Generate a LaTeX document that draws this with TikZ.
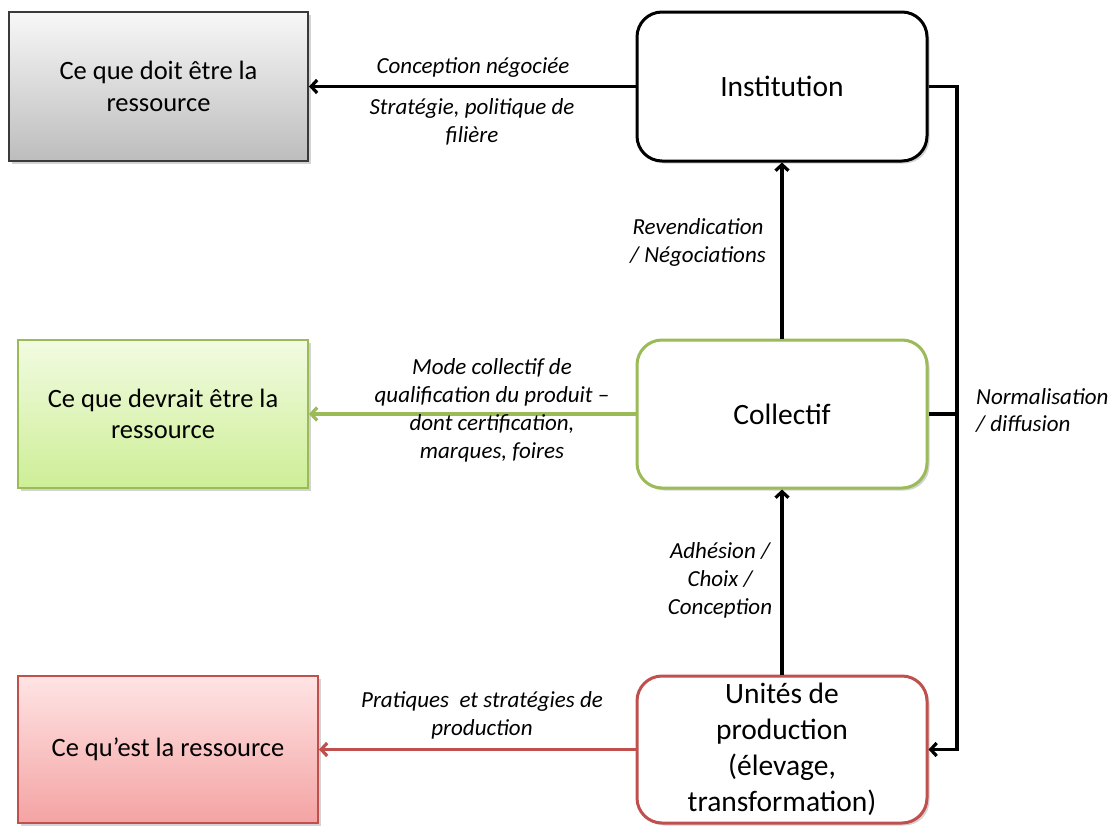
\documentclass[tikz,border=0pt]{standalone}
\usepackage{fontspec}
\setmainfont{Carlito}
\usetikzlibrary{arrows.meta,shadows}
\definecolor{grn}{HTML}{9BBB59}
\definecolor{rd}{HTML}{C0504D}
\definecolor{gbord}{HTML}{3A3A3A}
\tikzset{
  bigtxt/.style={font=\fontsize{29.5}{36}\selectfont, align=center},
  lefttxt/.style={font=\fontsize{26.5}{31.5}\selectfont, align=center},
  lbl/.style={font=\fontsize{23}{27.8}\selectfont\itshape, align=center, inner sep=0pt},
  shad/.style={drop shadow={opacity=0.35, shadow xshift=2.5pt, shadow yshift=-2.5pt}},
  leftbox/.style={rectangle, line width=2pt, lefttxt, shad},
  rightbox/.style={rectangle, rounded corners=25pt, line width=3pt, fill=white, bigtxt, minimum width=290pt, minimum height=148pt, inner sep=2pt, shad},
  arr/.style={line width=3.2pt, -{Straight Barb[length=6pt,width=13pt]}},
  conn/.style={line width=3.2pt},
}
\begin{document}
\begin{tikzpicture}[x=1pt,y=-1pt]
\useasboundingbox (0,0) rectangle (1118,825);

% left boxes
\node[leftbox, draw=gbord, top color=gray!6, bottom color=gray!52, minimum width=299pt, minimum height=149pt] (grey) at (158.5,86.5) {Ce que doit être la\\ressource};
\node[leftbox, draw=grn, top color={rgb,255:red,242;green,251;blue,225}, bottom color={rgb,255:red,205;green,238;blue,150}, minimum width=290pt, minimum height=148pt] (green) at (163,414) {Ce que devrait être la\\ressource};
\node[leftbox, draw=rd, top color={rgb,255:red,255;green,228;blue,228}, bottom color={rgb,255:red,244;green,163;blue,163}, minimum width=300pt, minimum height=147pt] (red) at (168,749.5) {Ce qu’est la ressource};

% right boxes
\node[rightbox, draw=black, minimum height=149pt] (inst) at (782,86.5) {Institution};
\node[rightbox, draw=grn] (coll) at (782,414) {Collectif};
\node[rightbox, draw=rd, minimum height=147pt] (unit) at (782,749.5) {Unités de\\production\\(élevage,\\transformation)};

% connectors
\draw[arr] (inst.west) -- (grey.east);
\draw[arr, draw=grn] (coll.west) -- (green.east);
\draw[arr, draw=rd] (unit.west) -- (red.east);
\draw[arr] (coll.north) -- (inst.south);
\draw[arr] (unit.north) -- (coll.south);

\coordinate (rt) at (957,0);
\draw[arr] (inst.east) -- (inst.east -| rt) |- (unit.east);
\draw[conn] (coll.east) -- (coll.east -| rt);

% labels
\node[lbl] (l1) at (473,68) {Conception négociée};
\node[lbl] (l2) at (472,121.5) {Stratégie, politique de\\filière};
\node[lbl] (l3) at (698,242.5) {Revendication\\/ Négociations};
\node[lbl] (l4) at (492,410.5) {Mode collectif de\\qualification du produit –\\dont certification,\\marques, foires};
\node[lbl] (l5) at (720,580.5) {Adhésion /\\Choix /\\Conception};
\node[lbl] (l6) at (482,715) {Pratiques\ \ et stratégies de\\production};
\node[lbl, anchor=west, align=left] (l7) at (976,410.5) {Normalisation\\/ diffusion};
\end{tikzpicture}
\end{document}
